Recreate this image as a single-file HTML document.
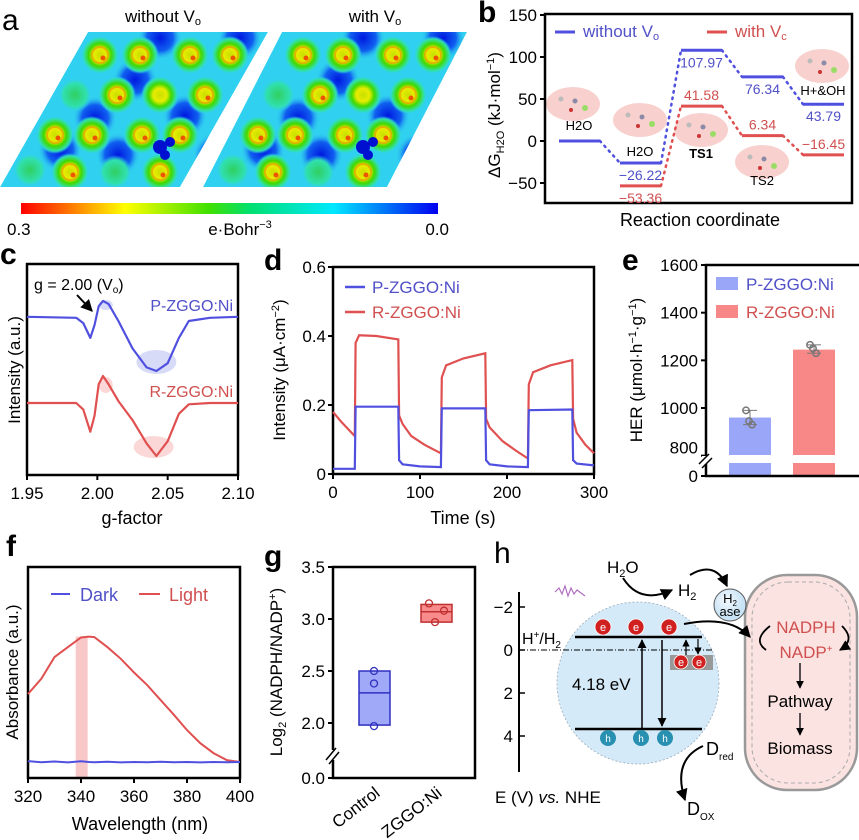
<!DOCTYPE html>
<html><head><meta charset="utf-8"><style>
html,body{margin:0;padding:0;background:#fff}
svg{display:block;font-family:"Liberation Sans",Arial,sans-serif}
</style></head><body>
<svg id="fig" width="859" height="840" viewBox="0 0 859 840" xmlns="http://www.w3.org/2000/svg">
<defs>
<linearGradient id="cbar" x1="0" x2="1" y1="0" y2="0">
<stop offset="0" stop-color="#ff0000"/><stop offset="0.25" stop-color="#ffff00"/><stop offset="0.45" stop-color="#40e000"/><stop offset="0.55" stop-color="#00e070"/><stop offset="0.75" stop-color="#00e8ff"/><stop offset="1" stop-color="#0000f0"/>
</linearGradient>
<radialGradient id="blob"><stop offset="0" stop-color="#c8e000"/><stop offset="0.35" stop-color="#e8ec00"/><stop offset="0.6" stop-color="#40d800"/><stop offset="0.85" stop-color="#30e0b0"/><stop offset="1" stop-color="#30d0f0" stop-opacity="0"/></radialGradient>
<radialGradient id="faint"><stop offset="0" stop-color="#30d060"/><stop offset="0.7" stop-color="#30e0b0"/><stop offset="1" stop-color="#30d0f0" stop-opacity="0"/></radialGradient>
<radialGradient id="dark"><stop offset="0" stop-color="#0018e0"/><stop offset="0.6" stop-color="#1060f0"/><stop offset="1" stop-color="#30d0f0" stop-opacity="0"/></radialGradient>
<radialGradient id="sph" cx="0.4" cy="0.35"><stop offset="0" stop-color="#f4f9fd"/><stop offset="1" stop-color="#c8e3f5"/></radialGradient>
<clipPath id="pl1"><polygon points="88,32 268,32 180,187 0,187"/></clipPath>
<clipPath id="pl2"><polygon points="282,32 467,32 387,187 203,187"/></clipPath>
<marker id="ah" viewBox="0 0 10 10" refX="9" refY="5" markerWidth="6" markerHeight="6" orient="auto"><path d="M0,0L10,5L0,10z" fill="#000"/></marker>
</defs>
<rect width="859" height="840" fill="#fff"/>

<!-- Panel a -->
<g>
<text x="2" y="30" font-size="30">a</text>
<text x="163" y="22" font-size="17" text-anchor="middle">without V<tspan font-size="11" dy="3">o</tspan></text>
<text x="375" y="22" font-size="17" text-anchor="middle">with V<tspan font-size="11" dy="3">o</tspan></text>
<g id="map1" clip-path="url(#pl1)"><polygon points="88,32 268,32 180,187 0,187" fill="#30d0f0"/></g>
<g id="map2" clip-path="url(#pl2)"><polygon points="282,32 467,32 387,187 203,187" fill="#30d0f0"/></g>
<rect x="21" y="203" width="417" height="11" fill="url(#cbar)"/>
<text x="7" y="235" font-size="17">0.3</text>
<text x="240" y="235" font-size="17" text-anchor="middle">e·Bohr<tspan font-size="11" dy="-7">−3</tspan></text>
<text x="449" y="235" font-size="17" text-anchor="end">0.0</text>
</g>

<!-- Panel b -->
<g id="pb">
<text x="478" y="22" font-size="30" font-weight="bold">b</text>
<text transform="translate(500,115) rotate(-90)" font-size="17" text-anchor="middle">ΔG<tspan font-size="11" dy="4">H2O</tspan><tspan dy="-4"> (kJ·mol</tspan><tspan font-size="11" dy="-6">−1</tspan><tspan dy="6">)</tspan></text>
<text x="700" y="226" font-size="18" text-anchor="middle">Reaction coordinate</text>
<line x1="555" y1="32" x2="575" y2="32" stroke="#5050e0" stroke-width="3"/>
<text x="583" y="37" font-size="17" fill="#5050c8">without V<tspan font-size="11" dy="3">o</tspan></text>
<line x1="707" y1="32" x2="727" y2="32" stroke="#e05050" stroke-width="3"/>
<text x="735" y="37" font-size="17" fill="#d05050">with V<tspan font-size="11" dy="3">c</tspan></text>
</g>

<!-- Panel c -->
<g id="pc">
<text x="0" y="264" font-size="30" font-weight="bold">c</text>
<text transform="translate(20,370) rotate(-90)" font-size="17" text-anchor="middle">Intensity (a.u.)</text>
<text x="132" y="524" font-size="18" text-anchor="middle">g-factor</text>
<text x="34" y="290" font-size="16">g = 2.00 (V<tspan font-size="10" dy="3">o</tspan><tspan dy="-3">)</tspan></text>
<line x1="77" y1="295" x2="92" y2="311" stroke="#000" stroke-width="2" marker-end="url(#ah)"/>
<text x="233" y="311" font-size="16" fill="#5050c8" text-anchor="end">P-ZGGO:Ni</text>
<text x="233" y="397" font-size="16" fill="#d05050" text-anchor="end">R-ZGGO:Ni</text>
</g>

<!-- Panel d -->
<g id="pd">
<text x="264" y="270" font-size="30" font-weight="bold">d</text>
<text transform="translate(285,370) rotate(-90)" font-size="17" text-anchor="middle">Intensity (μA·cm<tspan font-size="11" dy="-6">−2</tspan><tspan dy="6">)</tspan></text>
<text x="463" y="524" font-size="18" text-anchor="middle">Time (s)</text>
<line x1="345" y1="287" x2="365" y2="287" stroke="#5050e0" stroke-width="2.5"/>
<text x="372" y="293" font-size="17" fill="#5050c8">P-ZGGO:Ni</text>
<line x1="345" y1="312" x2="365" y2="312" stroke="#e05050" stroke-width="2.5"/>
<text x="372" y="318" font-size="17" fill="#d05050">R-ZGGO:Ni</text>
</g>

<!-- Panel e -->
<g id="pe">
<text x="622" y="270" font-size="30" font-weight="bold">e</text>
<text transform="translate(642,370) rotate(-90)" font-size="17" text-anchor="middle">HER (μmol·h<tspan font-size="11" dy="-6">−1</tspan><tspan dy="6">·g</tspan><tspan font-size="11" dy="-6">−1</tspan><tspan dy="6">)</tspan></text>
</g>

<!-- Panel f -->
<g id="pf">
<text x="6" y="556" font-size="30" font-weight="bold">f</text>
<text transform="translate(18,672) rotate(-90)" font-size="17" text-anchor="middle">Absorbance (a.u.)</text>
<text x="140" y="830" font-size="18" text-anchor="middle">Wavelength (nm)</text>
</g>

<!-- Panel g -->
<g id="pg">
<text x="264" y="566" font-size="30" font-weight="bold">g</text>
<text transform="translate(282,672) rotate(-90)" font-size="17" text-anchor="middle">Log<tspan font-size="11" dy="4">2</tspan><tspan dy="-4"> (NADPH/NADP</tspan><tspan font-size="11" dy="-6">+</tspan><tspan dy="6">)</tspan></text>
</g>

<!-- Panel h -->
<g id="ph">
<text x="494" y="563" font-size="30">h</text>
<rect x="745" y="575" width="112" height="215" rx="42" fill="#fbe3e1" stroke="#999" stroke-width="2.5"/>
<rect x="752" y="582" width="98" height="201" rx="36" fill="none" stroke="#aaa" stroke-width="1" stroke-dasharray="4,3"/>
<circle cx="638" cy="683" r="81" fill="#d5eaf8" stroke="#9ab" stroke-width="0.8" stroke-dasharray="2,2"/>
<line x1="519" y1="592" x2="519" y2="772" stroke="#000" stroke-width="2"/>
<g font-size="17" text-anchor="end">
<line x1="519" y1="607" x2="525" y2="607" stroke="#000" stroke-width="1.5"/><text x="513" y="613">−2</text>
<line x1="519" y1="650" x2="525" y2="650" stroke="#000" stroke-width="1.5"/><text x="513" y="656">0</text>
<line x1="519" y1="693" x2="525" y2="693" stroke="#000" stroke-width="1.5"/><text x="513" y="699">2</text>
<line x1="519" y1="736" x2="525" y2="736" stroke="#000" stroke-width="1.5"/><text x="513" y="742">4</text>
</g>
<line x1="519" y1="650" x2="712" y2="650" stroke="#000" stroke-width="1" stroke-dasharray="6,2,1,2"/>
<text x="522" y="644" font-size="16">H<tspan font-size="10" dy="-6">+</tspan><tspan dy="6">/H</tspan><tspan font-size="10" dy="4">2</tspan></text>
<line x1="575" y1="637" x2="702" y2="637" stroke="#000" stroke-width="2.5"/>
<line x1="575" y1="729" x2="702" y2="729" stroke="#000" stroke-width="2.5"/>
<rect x="670" y="655" width="43" height="15" fill="#999"/>
<g fill="#d02020" stroke="#fff" stroke-width="0.8">
<circle cx="603" cy="627" r="8"/><circle cx="636" cy="627" r="8"/><circle cx="669" cy="627" r="8"/><circle cx="681" cy="662" r="7"/><circle cx="699" cy="662" r="7"/>
</g>
<g fill="#fff" font-size="11" text-anchor="middle">
<text x="603" y="631">e</text><text x="636" y="631">e</text><text x="669" y="631">e</text><text x="681" y="666">e</text><text x="699" y="666">e</text>
</g>
<g fill="#2890b0"><circle cx="608" cy="738" r="8"/><circle cx="641" cy="738" r="8"/><circle cx="665" cy="738" r="8"/></g>
<g fill="#fff" font-size="10" text-anchor="middle"><text x="608" y="742">h</text><text x="641" y="742">h</text><text x="665" y="742">h</text></g>
<line x1="642" y1="729" x2="642" y2="640" stroke="#000" stroke-width="1.5" marker-end="url(#ah)"/>
<line x1="662" y1="640" x2="662" y2="726" stroke="#000" stroke-width="1.5" marker-end="url(#ah)"/>
<line x1="686" y1="655" x2="686" y2="640" stroke="#000" stroke-width="1.2" marker-end="url(#ah)"/>
<line x1="698" y1="639" x2="698" y2="654" stroke="#000" stroke-width="1.2" marker-end="url(#ah)"/>
<text x="572" y="690" font-size="17">4.18 eV</text>
<path d="M555,592 l4,-4 l3,6 l3,-8 l3,10 l3,-8 l3,6 l3,-4 l8,6" fill="none" stroke="#b070c0" stroke-width="1.2"/>
<text x="607" y="573" font-size="17">H<tspan font-size="11" dy="4">2</tspan><tspan dy="-4">O</tspan></text>
<path d="M623,578 Q640,605 672,590" fill="none" stroke="#000" stroke-width="2" marker-end="url(#ah)"/>
<text x="678" y="596" font-size="17">H<tspan font-size="11" dy="4">2</tspan></text>
<path d="M690,575 Q715,560 727,586" fill="none" stroke="#000" stroke-width="2" marker-end="url(#ah)"/>
<circle cx="730" cy="605" r="16" fill="url(#sph)" stroke="#555"/>
<text x="730" y="603" font-size="13" text-anchor="middle">H<tspan font-size="8" dy="3">2</tspan></text>
<text x="730" y="616" font-size="13" text-anchor="middle">ase</text>
<path d="M684,624 Q730,615 750,637" fill="none" stroke="#000" stroke-width="2" marker-end="url(#ah)"/>
<text x="806" y="633" font-size="17" fill="#d05050" text-anchor="middle">NADPH</text>
<text x="806" y="658" font-size="17" fill="#d05050" text-anchor="middle">NADP<tspan font-size="10" dy="-6">+</tspan></text>
<path d="M770,626 Q752,640 766,650" fill="none" stroke="#000" stroke-width="1.8"/>
<path d="M842,626 Q856,640 840,650" fill="none" stroke="#000" stroke-width="1.8" marker-end="url(#ah)"/>
<line x1="800" y1="663" x2="800" y2="688" stroke="#000" stroke-width="1.3" marker-end="url(#ah)"/>
<text x="800" y="707" font-size="17" text-anchor="middle">Pathway</text>
<line x1="800" y1="713" x2="800" y2="735" stroke="#000" stroke-width="1.3" marker-end="url(#ah)"/>
<text x="800" y="754" font-size="17" text-anchor="middle">Biomass</text>
<text x="706" y="755" font-size="18">D<tspan font-size="10" dy="5">red</tspan></text>
<path d="M703,746 Q672,760 685,800" fill="none" stroke="#000" stroke-width="2" marker-end="url(#ah)"/>
<text x="687" y="815" font-size="18">D<tspan font-size="10" dy="5">OX</tspan></text>
<text x="495" y="803" font-size="17">E (V) <tspan font-style="italic">vs.</tspan> NHE</text>
</g>
</svg>
<script>
// ---------- data ----------
const bSteps=['H2O(s)','H2O(ads)','TS1','TS2','H+&OH(ads)'];
const bWithout=[0,-26.22,107.97,76.34,43.79];
const bWith=[0,-53.36,41.58,6.34,-16.45];
const bTicks=[150,100,50,0,-50];

const cG=[1.95,1.985,1.99,1.995,1.998,2.001,2.004,2.008,2.015,2.025,2.035,2.042,2.05,2.058,2.065,2.08,2.10];
const cP=[7.5,7.45,7.2,6.5,7.1,8.0,8.25,8.1,7.3,6.0,5.1,4.93,5.3,6.5,7.3,7.45,7.5];
const cR=[3.41,3.41,3.1,2.05,2.8,4.3,4.69,4.3,3.5,2.6,1.5,0.9,1.6,2.9,3.35,3.41,3.41];
const cTicks=[1.95,2.00,2.05,2.10];

const dBlue=[[0,0.015],[25,0.015],[26,0.195],[75,0.195],[76,0.04],[80,0.028],[100,0.022],[124,0.02],[125,0.19],[175,0.19],[176,0.04],[180,0.028],[200,0.022],[224,0.02],[225,0.185],[275,0.187],[276,0.04],[280,0.03],[300,0.025]];
const dRed=[[0,0.18],[10,0.15],[25,0.11],[26,0.38],[30,0.402],[50,0.4],[75,0.39],[76,0.17],[80,0.145],[90,0.11],[105,0.085],[124,0.06],[125,0.28],[130,0.315],[150,0.335],[175,0.35],[176,0.16],[180,0.135],[195,0.095],[210,0.068],[224,0.045],[225,0.26],[230,0.295],[250,0.315],[275,0.33],[276,0.16],[280,0.12],[290,0.085],[300,0.06]];
const dXTicks=[0,100,200,300];
const dYTicks=[0,0.2,0.4,0.6];

const eCats=['P-ZGGO:Ni','R-ZGGO:Ni'];
const eVals=[960,1245];
const ePts=[[990,945,930],[1265,1250,1230]];
const eTicks=[1600,1400,1200,1000,800];

const fW=[320,325,330,335,340,343,345,350,355,360,365,370,375,380,385,390,395,400];
const fLight=[0.398,0.47,0.573,0.62,0.666,0.67,0.668,0.62,0.565,0.5,0.44,0.37,0.3,0.227,0.165,0.118,0.085,0.076];
const fDark=[0.08,0.075,0.078,0.074,0.079,0.076,0.075,0.077,0.074,0.076,0.075,0.077,0.075,0.076,0.074,0.076,0.075,0.076];
const fTicks=[320,340,360,380,400];

const gCats=['Control','ZGGO:Ni'];
const gBoxLo=[1.98,2.97];
const gBoxHi=[2.5,3.14];
const gMed=[2.29,3.07];
const gPts=[[2.5,2.38,1.97],[3.15,3.08,2.97]];
const gTicks=[3.5,3.0,2.5,2.0];

// ---------- helpers ----------
const NS='http://www.w3.org/2000/svg';
function mk(parent,tag,attrs,txt){const e=document.createElementNS(NS,tag);for(const k in attrs)e.setAttribute(k,attrs[k]);if(txt!==undefined)e.textContent=txt;parent.appendChild(e);return e;}
function frame(p,x0,y0,x1,y1){mk(p,'rect',{x:x0,y:y0,width:x1-x0,height:y1-y0,fill:'none',stroke:'#000','stroke-width':2.5});}
function pathOf(xs,ys){return xs.map((x,i)=>(i?'L':'M')+x.toFixed(1)+','+ys[i].toFixed(1)).join('');}

// ---------- panel a blobs ----------
const aBlobs=[[100,55,1],[140,55,1],[190,55,1],[230,55,1],[75,95,0],[117,95,1],[160,95,0.5],[205,95,1],[55,135,1],[92,135,1],[142,135,1],[180,135,1],[30,170,0],[70,172,1],[115,172,0],[160,172,1]];
const aDark=[[160,38],[240,38],[95,118],[185,116],[118,155],[215,155],[60,150],[135,80]];
[['map1',0],['map2',203]].forEach(([id,dx])=>{
  const g=document.getElementById(id);
  aDark.forEach(([x,y])=>mk(g,'circle',{cx:x+dx,cy:y,r:22,fill:'url(#dark)'}));
  aBlobs.forEach(([x,y,s])=>{mk(g,'circle',{cx:x+dx,cy:y,r:s?19:17,fill:s?'url(#blob)':'url(#faint)'});if(s===1){mk(g,'circle',{cx:x+dx,cy:y,r:8,fill:'none',stroke:'#f0a000','stroke-width':2,opacity:0.7});mk(g,'circle',{cx:x+dx+3,cy:y+3,r:2.5,fill:'#f03000',opacity:0.8});}});
  mk(g,'circle',{cx:160+dx,cy:147,r:7,fill:'#0010d0'});
  mk(g,'circle',{cx:170+dx,cy:142,r:5,fill:'#0010d0'});
  mk(g,'circle',{cx:165+dx,cy:155,r:5,fill:'#0010d0'});
});

// ---------- panel b ----------
(function(){
const p=document.getElementById('pb');
const X0=545,X1=852,T=14,B=203;
const yb=v=>141-0.84*v;
const lx=i=>559+i*61;
[[573,104],[640,120],[701,130],[762,162],[822,66]].forEach(([x,y])=>{mk(p,'ellipse',{cx:x,cy:y,rx:27,ry:17,fill:'#f7c9c5',opacity:0.85});
  mk(p,'circle',{cx:x-12,cy:y-5,r:2.5,fill:'#bbb'});mk(p,'circle',{cx:x+2,cy:y-3,r:2.5,fill:'#8a8aa8'});mk(p,'circle',{cx:x+12,cy:y+4,r:3,fill:'#9d6'});mk(p,'circle',{cx:x-2,cy:y+6,r:2,fill:'#c33'});});
frame(p,X0,T,X1,B);
bTicks.forEach(v=>{const y=yb(v);mk(p,'line',{x1:X0-5,y1:y,x2:X0,y2:y,stroke:'#000','stroke-width':2});
  const t=mk(p,'text',{x:X0-8,y:y+6,'font-size':17,'text-anchor':'end'},(v<0?'−':'')+Math.abs(v));
  });
[[bWith,'#e05050','#d05050'],[bWithout,'#5050e0','#5050c8']].forEach(([arr,col,tc],si)=>{
  arr.forEach((v,i)=>{
    if(si===0&&i===0)return;
    const y=yb(v);
    const l=mk(p,'line',{x1:lx(i),y1:y,x2:lx(i)+41,y2:y,stroke:col,'stroke-width':3});
    
    if(i<arr.length-1){mk(p,'line',{x1:lx(i)+41,y1:y,x2:lx(i+1),y2:yb(arr[i+1]),stroke:col,'stroke-width':2.5,'stroke-dasharray':'1.5,5','stroke-linecap':'round'});}
    if(i>0){const above=(si===0&&i>1);const t=mk(p,'text',{x:lx(i)+20.5,y:above?y-6:y+17,'font-size':14,'text-anchor':'middle',fill:tc},(v<0?'−':'')+Math.abs(v).toFixed(2));
      }
  });
});
const st=[[lx(0)+20,130,'H2O(s)'],[lx(1)+20,156,'H2O(ads)'],[lx(2)+20,158,'TS1'],[lx(3)+20,185,'TS2'],[lx(4)+20,95,'H+&OH(ads)']];
st.forEach(([x,y,s])=>{const t=mk(p,'text',{x:x,y:y,'font-size':13,'text-anchor':'middle','font-weight':s.startsWith('TS1')?'bold':'normal'},s.replace('(s)','').replace('(ads)',''));
 });
})();

// ---------- panel c ----------
(function(){
const p=document.getElementById('pc');
const X0=27,X1=238,T=264,B=475;
const xs=g=>X0+(g-1.95)*(X1-X0)/0.15;
const ys=v=>B-v*21.1;
mk(p,'ellipse',{cx:xs(2.042),cy:362,rx:20,ry:12,fill:'#6070e0',opacity:0.25});
mk(p,'ellipse',{cx:xs(2.006),cy:305,rx:7,ry:5,fill:'#6070e0',opacity:0.25});
mk(p,'ellipse',{cx:xs(2.040),cy:447,rx:20,ry:11,fill:'#f06060',opacity:0.25});
mk(p,'ellipse',{cx:xs(2.006),cy:385,rx:7,ry:8,fill:'#f06060',opacity:0.25});
frame(p,X0,T,X1,B);
cTicks.forEach(v=>{const x=xs(v);mk(p,'line',{x1:x,y1:B,x2:x,y2:B+5,stroke:'#000','stroke-width':2});
 const t=mk(p,'text',{x:x,y:B+24,'font-size':17,'text-anchor':'middle'},v.toFixed(2));});
const l1=mk(p,'path',{d:pathOf(cG.map(xs),cP.map(ys)),fill:'none',stroke:'#5050e0','stroke-width':2.2,'stroke-linejoin':'round'});

const l2=mk(p,'path',{d:pathOf(cG.map(xs),cR.map(ys)),fill:'none',stroke:'#e05050','stroke-width':2.2,'stroke-linejoin':'round'});

})();

// ---------- panel d ----------
(function(){
const p=document.getElementById('pd');
const X0=333,X1=594,T=267,B=474;
const xs=t=>X0+t*(X1-X0)/300;
const ys=v=>B-v*345;
frame(p,X0,T,X1,B);
dXTicks.forEach(v=>{const x=xs(v);mk(p,'line',{x1:x,y1:B,x2:x,y2:B+5,stroke:'#000','stroke-width':2});
 const t=mk(p,'text',{x:x,y:B+24,'font-size':17,'text-anchor':'middle'},v);});
dYTicks.forEach(v=>{const y=ys(v);mk(p,'line',{x1:X0-5,y1:y,x2:X0,y2:y,stroke:'#000','stroke-width':2});
 const t=mk(p,'text',{x:X0-7,y:y+6,'font-size':17,'text-anchor':'end'},v===0?'0':v.toFixed(1));});
const r=mk(p,'path',{d:pathOf(dRed.map(d=>xs(d[0])),dRed.map(d=>ys(d[1]))),fill:'none',stroke:'#e05050','stroke-width':2.2});

const b=mk(p,'path',{d:pathOf(dBlue.map(d=>xs(d[0])),dBlue.map(d=>ys(d[1]))),fill:'none',stroke:'#5050e0','stroke-width':2.2});

})();

// ---------- panel e ----------
(function(){
const p=document.getElementById('pe');
const X0=706,X1=857,T=265,B=476;
const ys=v=>408-(v-1000)*0.2383;
const cols=['#9aa6f8','#f88888'];
const bx=[729,793];
eVals.forEach((v,i)=>{
 const r=mk(p,'rect',{x:bx[i],y:ys(v),width:42,height:455-ys(v),fill:cols[i]});
 
 mk(p,'rect',{x:bx[i],y:463,width:42,height:13,fill:cols[i]});
 const pts=ePts[i];const mx=Math.max(...pts),mn=Math.min(...pts);
 mk(p,'line',{x1:bx[i]+21,y1:ys(mx),x2:bx[i]+21,y2:ys(mn),stroke:'#777','stroke-width':1});
 mk(p,'line',{x1:bx[i]+14,y1:ys(mx),x2:bx[i]+28,y2:ys(mx),stroke:'#777','stroke-width':1});
 mk(p,'line',{x1:bx[i]+14,y1:ys(mn),x2:bx[i]+28,y2:ys(mn),stroke:'#777','stroke-width':1});
 pts.forEach((q,j)=>{const c=mk(p,'circle',{cx:bx[i]+17+j*3,cy:ys(q),r:3.2,fill:'none',stroke:'#777','stroke-width':1.5});});
});
frame(p,X0,T,X1+10,B);
eTicks.forEach(v=>{const y=ys(v);mk(p,'line',{x1:X0-5,y1:y,x2:X0,y2:y,stroke:'#000','stroke-width':2});
 const t=mk(p,'text',{x:X0-8,y:y+(v===800?-2:6),'font-size':17,'text-anchor':'end'},v);});
mk(p,'line',{x1:X0-5,y1:B,x2:X0,y2:B,stroke:'#000','stroke-width':2});
mk(p,'text',{x:X0-8,y:B+6,'font-size':17,'text-anchor':'end'},'0');
mk(p,'rect',{x:X0-4,y:456,width:8,height:8,fill:'#fff'});
mk(p,'line',{x1:X0-7,y1:464,x2:X0+3,y2:454,stroke:'#000','stroke-width':1.5});
mk(p,'line',{x1:X0-4,y1:468,x2:X0+6,y2:458,stroke:'#000','stroke-width':1.5});
eCats.forEach((c,i)=>{mk(p,'rect',{x:716,y:277+i*28,width:22,height:13,fill:cols[i]});
 const t=mk(p,'text',{x:746,y:290+i*28,'font-size':17,fill:i?'#d05050':'#5050c8'},c);});
})();

// ---------- panel f ----------
(function(){
const p=document.getElementById('pf');
const X0=28,X1=240,T=567,B=778;
const xs=w=>X0+(w-320)*(X1-X0)/80;
const ys=v=>B-v*211;
mk(p,'rect',{x:xs(338),y:ys(0.67),width:xs(342.5)-xs(338),height:B-ys(0.67),fill:'#f8c8c8'});
frame(p,X0,T,X1,B);
fTicks.forEach(v=>{const x=xs(v);mk(p,'line',{x1:x,y1:B,x2:x,y2:B+5,stroke:'#000','stroke-width':2});
 const t=mk(p,'text',{x:x,y:B+24,'font-size':17,'text-anchor':'middle'},v);});
const r=mk(p,'path',{d:pathOf(fW.map(xs),fLight.map(ys)),fill:'none',stroke:'#e05050','stroke-width':2});

const b=mk(p,'path',{d:pathOf(fW.map(xs),fDark.map(ys)),fill:'none',stroke:'#5050e0','stroke-width':2});

mk(p,'line',{x1:51,y1:594,x2:70,y2:594,stroke:'#5050e0','stroke-width':2});
const t1=mk(p,'text',{x:80,y:601,'font-size':18,fill:'#5050c8'},'Dark');
mk(p,'line',{x1:139,y1:594,x2:160,y2:594,stroke:'#e05050','stroke-width':2});
const t2=mk(p,'text',{x:169,y:601,'font-size':18,fill:'#d05050'},'Light');
})();

// ---------- panel g ----------
(function(){
const p=document.getElementById('pg');
const X0=333,X1=475,T=567,B=778;
const ys=v=>619-(v-3)*104;
const bx=[359,421],bw=31;
const fills=['#a0a8f8','#f88c8c'],strokes=['#3030c0','#c03030'];
gCats.forEach((c,i)=>{
 const r=mk(p,'rect',{x:bx[i],y:ys(gBoxHi[i]),width:bw,height:ys(gBoxLo[i])-ys(gBoxHi[i]),fill:fills[i],stroke:strokes[i],'stroke-width':1.5});
 
 mk(p,'line',{x1:bx[i],y1:ys(gMed[i]),x2:bx[i]+bw,y2:ys(gMed[i]),stroke:strokes[i],'stroke-width':1.5});
 gPts[i].forEach((q,j)=>{const cc=mk(p,'circle',{cx:bx[i]+15+(i?(j===1?8:j===2?-1:-7):0),cy:ys(q),r:3.5,fill:'none',stroke:strokes[i],'stroke-width':1.3});});
 const t=mk(p,'text',{transform:'translate('+(bx[i]+22)+',795) rotate(-38)','font-size':17,'text-anchor':'end'},c);
});
frame(p,X0,T,X1,B);
gTicks.forEach(v=>{const y=ys(v);mk(p,'line',{x1:X0-5,y1:y,x2:X0,y2:y,stroke:'#000','stroke-width':2});
 const t=mk(p,'text',{x:X0-8,y:y+6,'font-size':17,'text-anchor':'end'},v.toFixed(1));});
mk(p,'line',{x1:X0-5,y1:B,x2:X0,y2:B,stroke:'#000','stroke-width':2});
mk(p,'text',{x:X0-8,y:B+6,'font-size':17,'text-anchor':'end'},'0.0');
mk(p,'rect',{x:X0-4,y:750,width:8,height:10,fill:'#fff'});
mk(p,'line',{x1:X0-7,y1:760,x2:X0+3,y2:748,stroke:'#000','stroke-width':1.5});
mk(p,'line',{x1:X0-4,y1:764,x2:X0+6,y2:752,stroke:'#000','stroke-width':1.5});
})();
</script>
</body></html>
